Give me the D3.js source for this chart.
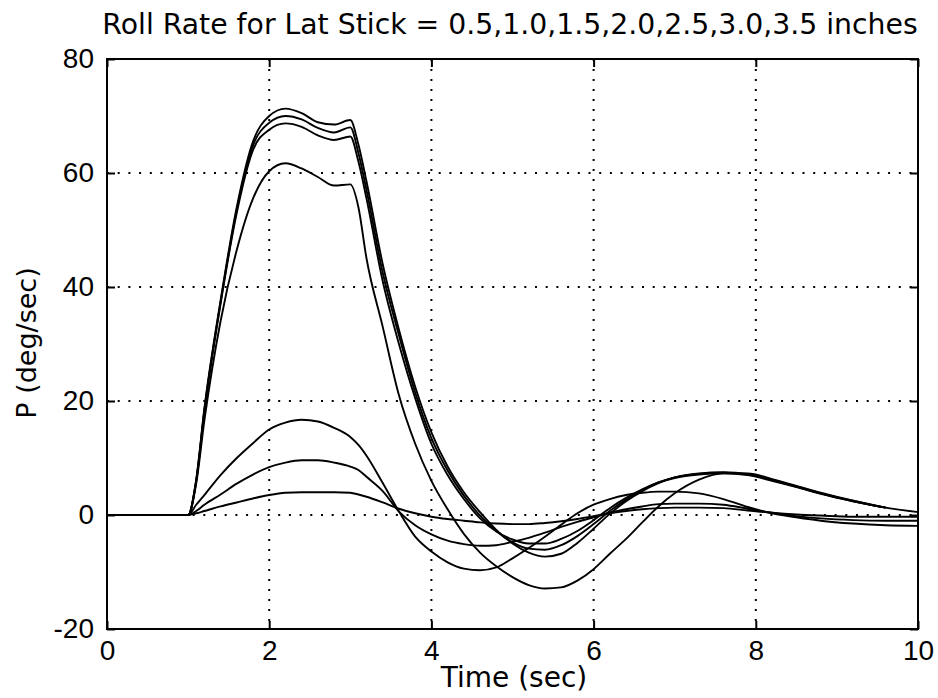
<!DOCTYPE html>
<html>
<head>
<meta charset="utf-8">
<script src="https://cdn.jsdelivr.net/npm/d3@7"></script>
<style>
  html, body { margin: 0; padding: 0; background: #fff; }
  svg { display: block; }
</style>
</head>
<body>
<svg id="chart" width="938" height="698"></svg>
<script>
// ---- Data ----
const titleText = "Roll Rate for Lat Stick = 0.5,1.0,1.5,2.0,2.5,3.0,3.5 inches";
const xLabelText = "Time (sec)";
const yLabelText = "P (deg/sec)";

const xTicks = [0, 2, 4, 6, 8, 10];
const yTicks = [-20, 0, 20, 40, 60, 80];
const xDomain = [0, 10];
const yDomain = [-20, 80];

const times = [0, 1.0, 1.1, 1.2, 1.4, 1.6, 1.8, 2.0, 2.2, 2.4, 2.6, 2.8, 3.0, 3.1, 3.2, 3.4,
  3.6, 3.8, 4.0, 4.2, 4.4, 4.6, 4.8, 5.0, 5.2, 5.4, 5.6, 5.8, 6.0, 6.2, 6.4, 6.6,
  6.8, 7.0, 7.3, 7.6, 7.9, 8.2, 8.5, 8.8, 9.2, 9.6, 10.0];

const stick05 = [0, 0, 0.3, 0.7, 1.5, 2.2, 2.9, 3.5, 3.9, 4.0, 4.0, 4.0, 3.9, 3.6, 3.2, 2.2,
  1.1, 0.3, -0.3, -0.7, -1.0, -1.3, -1.5, -1.6, -1.6, -1.4, -1.1, -0.7, -0.2, 0.3, 0.7, 1.0,
  1.2, 1.3, 1.3, 1.2, 0.8, 0.4, 0.1, -0.1, -0.3, -0.3, -0.3];

const stick10 = [0, 0, 0.7, 1.8, 3.6, 5.5, 7.1, 8.4, 9.2, 9.6, 9.6, 9.2, 8.5, 7.9, 6.7, 4.2,
  0.6, -1.8, -3.4, -4.5, -5.1, -5.4, -5.3, -4.7, -4.0, -3.1, -2.1, -1.2, -0.4, 0.4, 1.0, 1.5,
  1.9, 2.0, 2.0, 1.8, 1.1, 0.4, -0.2, -0.6, -0.9, -1.0, -1.0];

const stick15 = [0, 0, 1.8, 3.5, 7.0, 10.0, 12.6, 15.0, 16.2, 16.7, 16.4, 15.3, 13.7, 12.3, 10.4, 5.6,
  0.6, -3.8, -6.4, -8.3, -9.4, -9.7, -9.2, -7.6, -5.8, -3.8, -1.7, 0.3, 1.8, 2.8, 3.5, 3.9,
  4.1, 4.1, 3.8, 2.8, 1.4, 0.3, -0.4, -1.0, -1.5, -1.8, -1.9];

const stick20 = [0, 0, 5.5, 16.5, 34, 46.5, 55.5, 60.3, 61.7, 60.8, 59.3, 57.8, 58.0, 54, 45, 33,
  21, 12.5, 6.0, 1.0, -3.3, -6.6, -9.0, -10.9, -12.3, -12.9, -12.7, -11.5, -9.5, -6.8, -4.2, -1.3,
  1.5, 3.8, 6.2, 7.3, 7.3, 6.3, 5.1, 3.9, 2.5, 1.3, 0.5];

const stick25 = [0, 0, 6.0, 18.0, 37, 53, 64, 67.6, 68.7, 68.1, 66.6, 65.8, 66.4, 62, 55.5, 41,
  30, 20.5, 12.5, 7.0, 2.8, -0.6, -2.9, -4.3, -5.0, -5.0, -4.2, -2.8, -0.9, 1.2, 3.0, 4.5,
  5.7, 6.5, 7.1, 7.3, 7.0, 6.0, 4.9, 3.7, 2.4, 1.3, null];

const stick30 = [0, 0, 6.0, 18.3, 37.3, 53.5, 64.8, 68.8, 70.0, 69.4, 67.9, 67.1, 68.0, 63.5, 57, 42.5,
  31.5, 21.5, 13.5, 7.8, 3.4, -0.1, -2.8, -4.8, -5.9, -6.1, -5.3, -3.7, -1.6, 0.7, 2.7, 4.4,
  5.7, 6.6, 7.2, 7.4, 7.1, 6.1, 5.0, 3.8, 2.4, 1.3, null];

const stick35 = [0, 0, 6.2, 18.6, 37.6, 54, 65.5, 70.0, 71.3, 70.5, 68.9, 68.5, 69.3, 65, 58.5, 44,
  32.5, 22.5, 14.5, 8.5, 4.0, 0.5, -2.6, -5.0, -6.6, -7.3, -6.8, -4.9, -2.4, 0.2, 2.4, 4.2,
  5.6, 6.6, 7.3, 7.5, 7.2, 6.2, 5.0, 3.8, 2.5, 1.3, null];

const seriesNames = ["0.5", "1.0", "1.5", "2.0", "2.5", "3.0", "3.5"];
const seriesValues = [stick05, stick10, stick15, stick20, stick25, stick30, stick35];

// ---- Layout ----
const svg = d3.select("#chart");
const W = 938, H = 698;
const plot = { left: 107, right: 918, top: 59, bottom: 629 };

svg.append("rect").attr("x", 0).attr("y", 0).attr("width", W).attr("height", H).attr("fill", "#fff");

const x = d3.scaleLinear().domain(xDomain).range([plot.left, plot.right]);
const y = d3.scaleLinear().domain(yDomain).range([plot.bottom, plot.top]);

const tickFont = "'Liberation Sans', Arial, sans-serif";
const labelFont = "'DejaVu Sans', sans-serif";

// ---- Dotted grid ----
const grid = svg.append("g").attr("class", "grid");
grid.selectAll("line.vx")
  .data(xTicks.filter(d => d > xDomain[0] && d < xDomain[1]))
  .enter().append("line")
  .attr("x1", d => x(d)).attr("x2", d => x(d))
  .attr("y1", plot.top).attr("y2", plot.bottom)
  .attr("stroke", "#000").attr("stroke-width", 2)
  .attr("stroke-dasharray", "2 8");
grid.selectAll("line.hy")
  .data(yTicks.filter(d => d > yDomain[0] && d < yDomain[1]))
  .enter().append("line")
  .attr("x1", plot.left).attr("x2", plot.right)
  .attr("y1", d => y(d)).attr("y2", d => y(d))
  .attr("stroke", "#000").attr("stroke-width", 2)
  .attr("stroke-dasharray", "2 8.7");

// ---- Lines ----
const line = d3.line()
  .defined(d => d[1] !== null)
  .x(d => x(d[0]))
  .y(d => y(d[1]))
  .curve(d3.curveMonotoneX);

svg.append("g").attr("class", "series")
  .selectAll("path")
  .data(seriesValues.map((vals, i) => ({ name: seriesNames[i], pts: times.map((t, j) => [t, vals[j]]) })))
  .enter().append("path")
  .attr("d", d => line(d.pts))
  .attr("fill", "none")
  .attr("stroke", "#000")
  .attr("stroke-width", 1.9)
  .attr("stroke-linejoin", "round");

// ---- Axes (inward ticks) ----
const fmt = d => String(d);
const axB = svg.append("g").attr("transform", `translate(0,${plot.bottom})`)
  .call(d3.axisBottom(x).tickValues(xTicks).tickSize(-8).tickPadding(11).tickFormat(fmt));
const axL = svg.append("g").attr("transform", `translate(${plot.left},0)`)
  .call(d3.axisLeft(y).tickValues(yTicks).tickSize(-8).tickPadding(13).tickFormat(fmt));
const axT = svg.append("g").attr("transform", `translate(0,${plot.top})`)
  .call(d3.axisTop(x).tickValues(xTicks).tickSize(-8).tickFormat(""));
const axR = svg.append("g").attr("transform", `translate(${plot.right},0)`)
  .call(d3.axisRight(y).tickValues(yTicks).tickSize(-8).tickFormat(""));

[axB, axL, axT, axR].forEach(g => {
  g.select(".domain").remove();
  g.selectAll(".tick line").attr("stroke", "#000").attr("stroke-width", 2);
  g.selectAll(".tick text")
    .attr("fill", "#000")
    .style("font-family", tickFont)
    .style("font-size", "28px");
});

// ---- Frame ----
svg.append("rect")
  .attr("x", plot.left).attr("y", plot.top)
  .attr("width", plot.right - plot.left).attr("height", plot.bottom - plot.top)
  .attr("fill", "none").attr("stroke", "#000").attr("stroke-width", 2);

// ---- Texts ----
svg.append("text")
  .attr("x", 510).attr("y", 34)
  .attr("text-anchor", "middle")
  .style("font-family", labelFont).style("font-size", "28.3px")
  .attr("fill", "#000")
  .text(titleText);

svg.append("text")
  .attr("x", 514).attr("y", 687)
  .attr("text-anchor", "middle")
  .style("font-family", labelFont).style("font-size", "28px")
  .attr("fill", "#000")
  .text(xLabelText);

svg.append("text")
  .attr("transform", "translate(36,343) rotate(-90)")
  .attr("text-anchor", "middle")
  .style("font-family", labelFont).style("font-size", "27px")
  .attr("fill", "#000")
  .text(yLabelText);
</script>
</body>
</html>
